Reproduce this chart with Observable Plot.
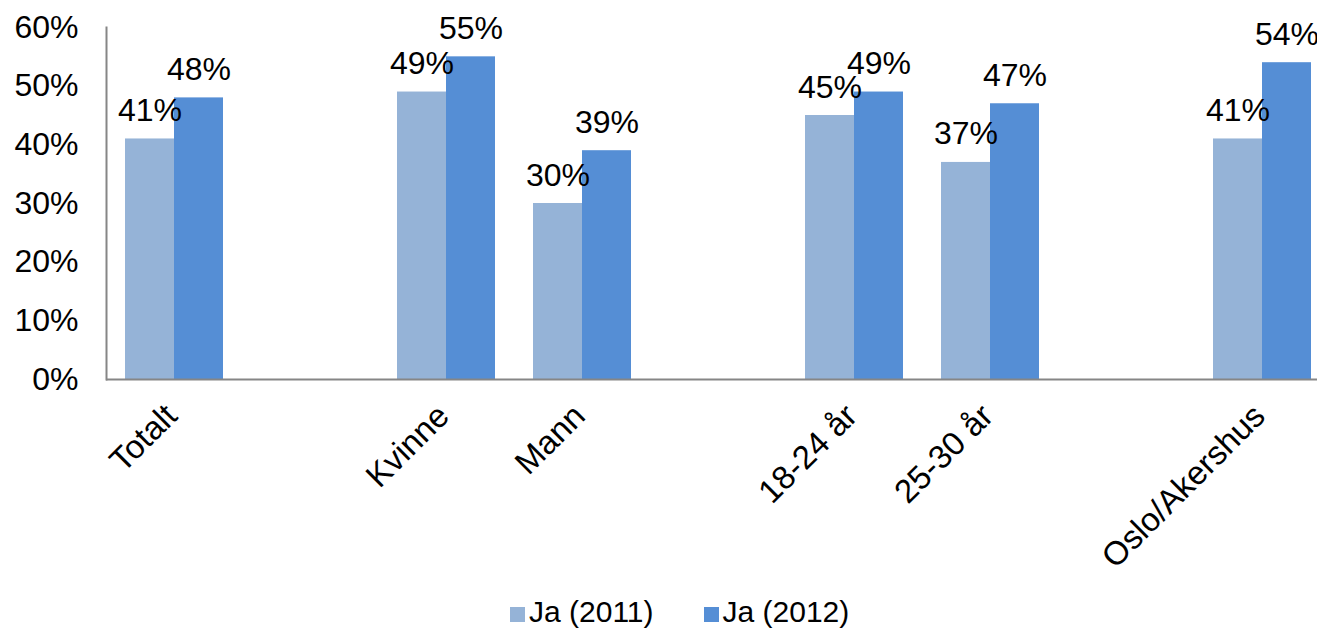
<!DOCTYPE html>
<html><head><meta charset="utf-8">
<script src="https://cdn.jsdelivr.net/npm/d3@7"></script>
<script src="https://cdn.jsdelivr.net/npm/@observablehq/plot@0.6"></script>
<style>
html,body{margin:0;padding:0;overflow:hidden;background:#fff;font-family:"Liberation Sans",Arial,sans-serif;}
#chart svg{max-width:none !important;}
#legend{width:1317px;height:64px;display:flex;align-items:center;padding-left:510px;box-sizing:border-box;font-size:30px;color:#000;}
.item{display:flex;align-items:center;margin-right:50px;}
.sw{width:15px;height:15px;margin-right:4px;margin-top:4px;display:inline-block;}
</style></head><body><div id="chart"></div><div id="legend"></div>
<script>
const categories = ["Totalt", " ", "Kvinne", "Mann", "  ", "18-24 år", "25-30 år", "   ", "Oslo/Akershus"];
const series = ["Ja (2011)", "Ja (2012)"];
const values2011 = [41, null, 49, 30, null, 45, 37, null, 41];
const values2012 = [48, null, 55, 39, null, 49, 47, null, 54];
const colors = ["#95B3D7", "#558ED5"];
const yTicks = [0, 10, 20, 30, 40, 50, 60];

const data = categories.flatMap((g, i) => [
  {group: g, series: series[0], value: values2011[i]},
  {group: g, series: series[1], value: values2012[i]}
]);

const chart = Plot.plot({
  width: 1340, height: 580,
  marginLeft: 104, marginRight: 8, marginTop: 27, marginBottom: 201,
  style: {fontFamily: "'Liberation Sans', Arial, sans-serif", fontSize: "32px", color: "#000", background: "#fff", overflow: "visible", maxWidth: "none"},
  fx: {domain: categories, padding: 0, label: null},
  x: {domain: series, paddingInner: 0, paddingOuter: 0.384, axis: null},
  y: {domain: [0, 60], label: null},
  color: {domain: series, range: colors},
  marks: [
    Plot.barY(data, {fx: "group", x: "series", y: "value", fill: "series"}),
    Plot.text(data, {fx: "group", x: "series", y: "value", text: d => d.value == null ? "" : d.value + "%", lineAnchor: "bottom", dy: -18, fontSize: 32, fill: "#000"}),
    Plot.axisY({ticks: yTicks, tickSize: 0, tickPadding: 28, tickFormat: d => d + "%", label: null, fontSize: 32, facetAnchor: "left"}),
    Plot.axisFx({anchor: "bottom", tickRotate: -45, tickSize: 0, tickPadding: 31, dx: -3, label: null, fontSize: 33}),
    Plot.ruleY([0], {stroke: "#868686", strokeWidth: 2}),
    Plot.frame({anchor: "left", facetAnchor: "left", stroke: "#868686", strokeWidth: 2})
  ]
});
document.getElementById("chart").appendChild(chart);

const legend = document.getElementById("legend");
series.forEach((s, i) => {
  const item = document.createElement("div");
  item.className = "item";
  const sw = document.createElement("span");
  sw.className = "sw";
  sw.style.background = colors[i];
  const t = document.createElement("span");
  t.textContent = s;
  item.appendChild(sw);
  item.appendChild(t);
  legend.appendChild(item);
});
</script>
</body></html>
